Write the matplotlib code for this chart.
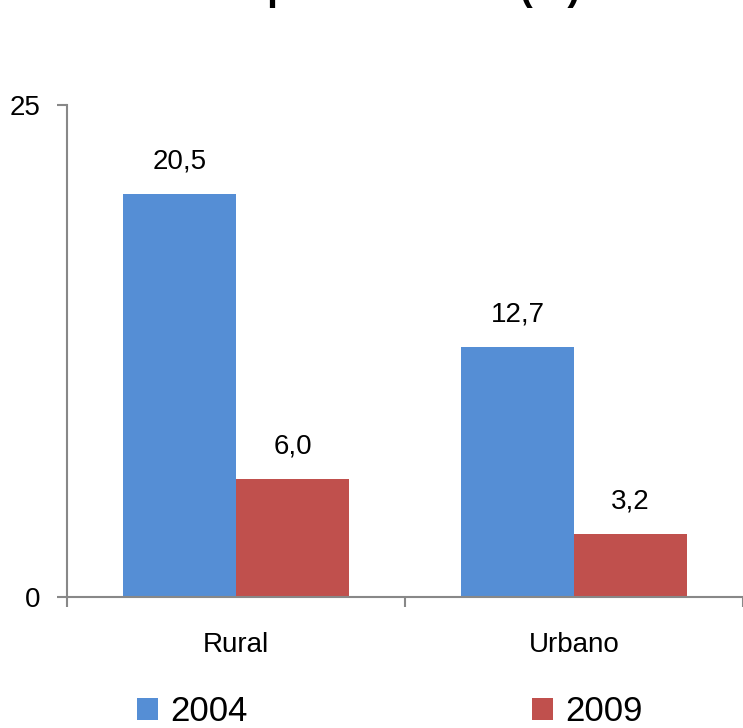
import matplotlib.pyplot as plt
import numpy as np

# data
categories = ["Rural", "Urbano"]
years = ["2004", "2009"]
values_2004 = [20.5, 12.7]
values_2009 = [6.0, 3.2]
colors = ["#558ED5", "#C0504D"]
title = "Incidencia de pobreza total (%)"

plt.rcParams['font.family'] = ['Liberation Sans Narrow', 'Liberation Sans', 'DejaVu Sans']

fig = plt.figure(figsize=(7.43, 7.28), dpi=100)
ax = fig.add_axes([67/743, 131/728, 676/743, 492/728])

x = np.arange(len(categories))
w = 0.335
b1 = ax.bar(x - w/2, values_2004, w, color=colors[0], label=years[0])
b2 = ax.bar(x + w/2, values_2009, w, color=colors[1], label=years[1])

for bars, vals in ((b1, values_2004), (b2, values_2009)):
    for r, v in zip(bars, vals):
        ax.annotate(f"{v:.1f}".replace(".", ","), (r.get_x() + r.get_width()/2, v),
                    xytext=(0, 14), textcoords="offset points",
                    ha="center", va="bottom", fontsize=20)

ax.set_xlim(-0.5, 1.5)
ax.set_ylim(0, 25)
ax.set_yticks([0, 25])
ax.set_yticklabels(["0", "25"], fontsize=20)
ax.set_xticks([-0.5, 0.5, 1.5])
ax.set_xticklabels([])
ax.set_xticks(x, minor=True)
ax.set_xticklabels(categories, minor=True, fontsize=20)

gray = "#888888"
for s in ("top", "right"):
    ax.spines[s].set_visible(False)
for s in ("left", "bottom"):
    ax.spines[s].set_color(gray)
    ax.spines[s].set_linewidth(1.5)
ax.tick_params(axis="y", which="major", length=7, width=1.5, color=gray, pad=12)
ax.tick_params(axis="x", which="major", length=7, width=1.5, color=gray)
ax.tick_params(axis="x", which="minor", length=0, pad=25)

fig.text(580/743, 1.0, title, ha="right", va="baseline", fontsize=28, fontweight="bold",
         family=['Liberation Sans', 'DejaVu Sans'])

fig.legend(handles=[b1, b2], loc="center", bbox_to_anchor=(0.525, 0.022), ncol=2,
           frameon=False, fontsize=25, handlelength=0.6, handleheight=0.6,
           handletextpad=0.35, columnspacing=8.2, borderpad=0, borderaxespad=0)

fig.savefig("out.png", dpi=100)
